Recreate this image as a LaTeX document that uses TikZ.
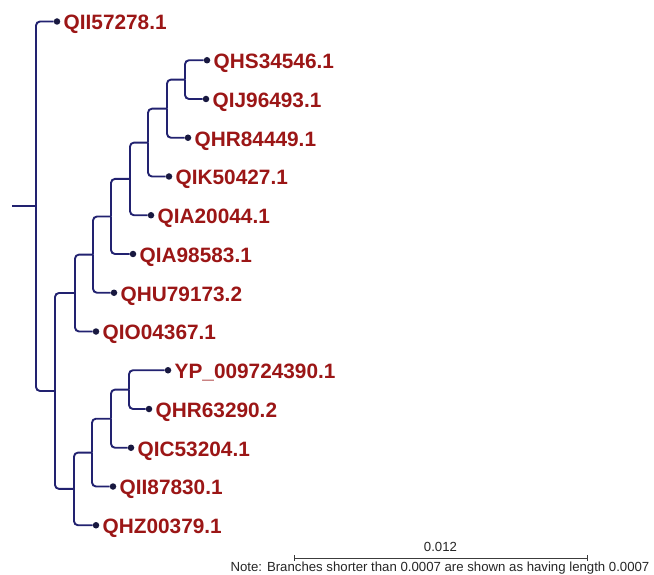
\documentclass[tikz,border=0pt]{standalone}
\usepackage{fontspec}
\setmainfont{Liberation Sans}
\definecolor{branch}{RGB}{34,34,112}
\definecolor{dotc}{RGB}{24,24,64}
\definecolor{labc}{RGB}{155,22,22}
\definecolor{scalec}{RGB}{60,60,60}
\begin{document}
\begin{tikzpicture}[x=1pt,y=-1pt,
  br/.style={draw=branch, line width=1.9pt, rounded corners=4pt},
  leafdot/.style={circle, fill=dotc, inner sep=0pt, minimum size=6.5pt},
  lab/.style={anchor=base west, inner sep=0pt, text=labc,
    font=\fontsize{20.8}{24}\selectfont\bfseries, xshift=6.5pt, yshift=-8.3pt},
  sbar/.style={draw=scalec, line width=0.9pt},
  note/.style={inner sep=0pt, text=black!85, font=\fontsize{13.2}{15}\selectfont}
]
\useasboundingbox (0,0) rectangle (654,575);

% internal nodes
\coordinate (r0) at (12,206.2);
\coordinate (root) at (36,206.2);
\coordinate (B) at (55,391);
\coordinate (C) at (75,293);
\coordinate (D) at (93,254.6);
\coordinate (E) at (111,216.5);
\coordinate (F) at (130,178.9);
\coordinate (G) at (148,142.6);
\coordinate (H) at (167,108.7);
\coordinate (I) at (185,79.6);
\coordinate (J) at (74,488.9);
\coordinate (K) at (92,452.6);
\coordinate (L) at (111,418.7);
\coordinate (M) at (129,389.6);

% leaves
\node[leafdot] (l0) at (57,21.5) {};
\node[leafdot] (l1) at (207,60.25) {};
\node[leafdot] (l2) at (206,99) {};
\node[leafdot] (l3) at (188,137.75) {};
\node[leafdot] (l4) at (169,176.5) {};
\node[leafdot] (l5) at (151,215.25) {};
\node[leafdot] (l6) at (133,254) {};
\node[leafdot] (l7) at (114,292.75) {};
\node[leafdot] (l8) at (96,331.5) {};
\node[leafdot] (l9) at (168,370.25) {};
\node[leafdot] (l10) at (149,409) {};
\node[leafdot] (l11) at (131,447.75) {};
\node[leafdot] (l12) at (113,486.5) {};
\node[leafdot] (l13) at (96,525.25) {};

% labels
\node[lab] (t0) at (l0.center) {QII57278.1};
\node[lab] (t1) at (l1.center) {QHS34546.1};
\node[lab] (t2) at (l2.center) {QIJ96493.1};
\node[lab] (t3) at (l3.center) {QHR84449.1};
\node[lab] (t4) at (l4.center) {QIK50427.1};
\node[lab] (t5) at (l5.center) {QIA20044.1};
\node[lab] (t6) at (l6.center) {QIA98583.1};
\node[lab] (t7) at (l7.center) {QHU79173.2};
\node[lab] (t8) at (l8.center) {QIO04367.1};
\node[lab] (t9) at (l9.center) {YP\_009724390.1};
\node[lab] (t10) at (l10.center) {QHR63290.2};
\node[lab] (t11) at (l11.center) {QIC53204.1};
\node[lab] (t12) at (l12.center) {QII87830.1};
\node[lab] (t13) at (l13.center) {QHZ00379.1};

% branches
\draw[br] (r0) -- (root);
\draw[br] (root) |- (l0);
\draw[br] (root) |- (B);
\draw[br] (B) |- (C);
\draw[br] (B) |- (J);
\draw[br] (C) |- (D);
\draw[br] (C) |- (l8);
\draw[br] (D) |- (E);
\draw[br] (D) |- (l7);
\draw[br] (E) |- (F);
\draw[br] (E) |- (l6);
\draw[br] (F) |- (G);
\draw[br] (F) |- (l5);
\draw[br] (G) |- (H);
\draw[br] (G) |- (l4);
\draw[br] (H) |- (I);
\draw[br] (H) |- (l3);
\draw[br] (I) |- (l1);
\draw[br] (I) |- (l2);
\draw[br] (J) |- (K);
\draw[br] (J) |- (l13);
\draw[br] (K) |- (L);
\draw[br] (K) |- (l12);
\draw[br] (L) |- (M);
\draw[br] (L) |- (l11);
\draw[br] (M) |- (l9);
\draw[br] (M) |- (l10);

% scale bar
\coordinate (sbL) at (294,558);
\coordinate (sbR) at (587,558);
\draw[sbar] (sbL) -- (sbR);
\draw[sbar] ([yshift=3pt]sbL) -- ([yshift=-3pt]sbL);
\draw[sbar] ([yshift=3pt]sbR) -- ([yshift=-3pt]sbR);
\node[note] (sblab) at (440.5,547) {0.012};
\node[note] (notetxt) at (440,568.5) {Note: Branches shorter than 0.0007 are shown as having length 0.0007};
\end{tikzpicture}
\end{document}
